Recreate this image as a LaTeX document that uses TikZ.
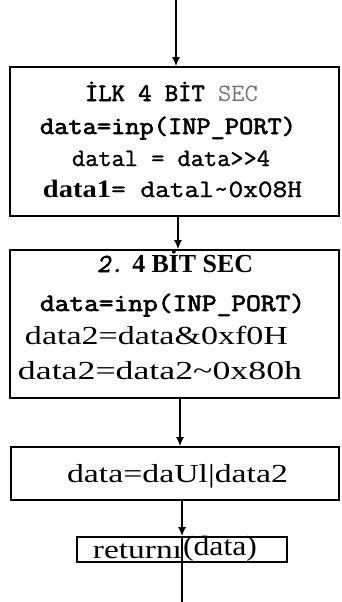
\documentclass[tikz,border=0pt]{standalone}
\usepackage{fontspec}
\setmainfont{Liberation Serif}
\setmonofont[AutoFakeBold=2.5,AutoFakeSlant=0.2]{Latin Modern Mono}
\newfontfamily\monomed[FakeBold=1.2]{Latin Modern Mono}
\usetikzlibrary{arrows.meta}
\newcommand\fitw[2]{\resizebox{#1}{\height}{#2}}
\begin{document}
\begin{tikzpicture}[x=1pt,y=-1pt,
  box/.style={draw, line width=1.6pt, inner sep=0pt},
  arr/.style={line width=1.6pt, -{Latex[length=9pt,width=8pt]}},
  conn/.style={line width=1.3pt},
  txt/.style={anchor=base, inner sep=0pt, outer sep=0pt},
  mono/.style={txt, font=\fontsize{25}{29}\selectfont\ttfamily},
  serif/.style={txt, font=\fontsize{26}{30}\selectfont\rmfamily}]
\useasboundingbox (0,0) rectangle (341,602);
% boxes
\node[box, minimum width=329pt, minimum height=149pt] (b1) at (174.5,141.5) {};
\node[box, minimum width=329pt, minimum height=148pt] (b2) at (174.5,324) {};
\node[box, minimum width=328pt, minimum height=53pt] (b3) at (175,473.5) {};
\node[box, minimum width=210pt, minimum height=25pt] (b4) at (182,549.5) {};
% texts box 1
\node[mono] (t11) at (171.5,101) {\fitw{173pt}{\textbf{İLK 4 BİT} \textcolor{black!55}{SEC}}};
\node[mono] (t12) at (168,134) {\fitw{256pt}{\textbf{data=inp(INP\_PORT)}}};
\node[mono] (t13) at (171,166) {\fitw{198pt}{\monomed datal = data>>4}};
\node[mono] (t14) at (172.5,197) {\fitw{259pt}{{\rmfamily\bfseries data1}{\monomed = datal\textasciitilde 0x08H}}};
% texts box 2
\node[serif] (t21) at (175,272) {\fitw{156pt}{\bfseries{\ttfamily\itshape 2.} 4 BİT SEC}};
\node[mono] (t22) at (172.5,311) {\fitw{265pt}{\textbf{data=inp(INP\_PORT)}}};
\node[serif] (t23) at (156.5,344) {\fitw{263pt}{data2=data\&0xf0H}};
\node[serif] (t24) at (160,379) {\fitw{284pt}{data2=data2\textasciitilde 0x80h}};
% text box 3
\node[serif] (t3) at (177.5,482) {\fitw{221pt}{data=daUl|data2}};
% text box 4
\node[serif] (t4a) at (137.5,558) {\fitw{89pt}{returnı}};
\node[serif, font=\fontsize{28}{30}\selectfont\rmfamily] (t4b) at (220,555) {\fitw{74pt}{(data)}};
% connectors
\coordinate (a0) at (176,0);
\coordinate (a1) at (178,0);
\coordinate (a2) at (180,0);
\coordinate (a3) at (182,0);
\coordinate (end) at (182,602);
\draw[arr] (a0) -- (a0 |- b1.north);
\draw[arr] (a1 |- b1.south) -- (a1 |- b2.north);
\draw[arr] (a2 |- b2.south) -- (a2 |- b3.north);
\draw[arr] (a3 |- b3.south) -- (a3 |- b4.north);
\draw[conn] (b4.north -| end) -- (end);
\end{tikzpicture}
\end{document}
